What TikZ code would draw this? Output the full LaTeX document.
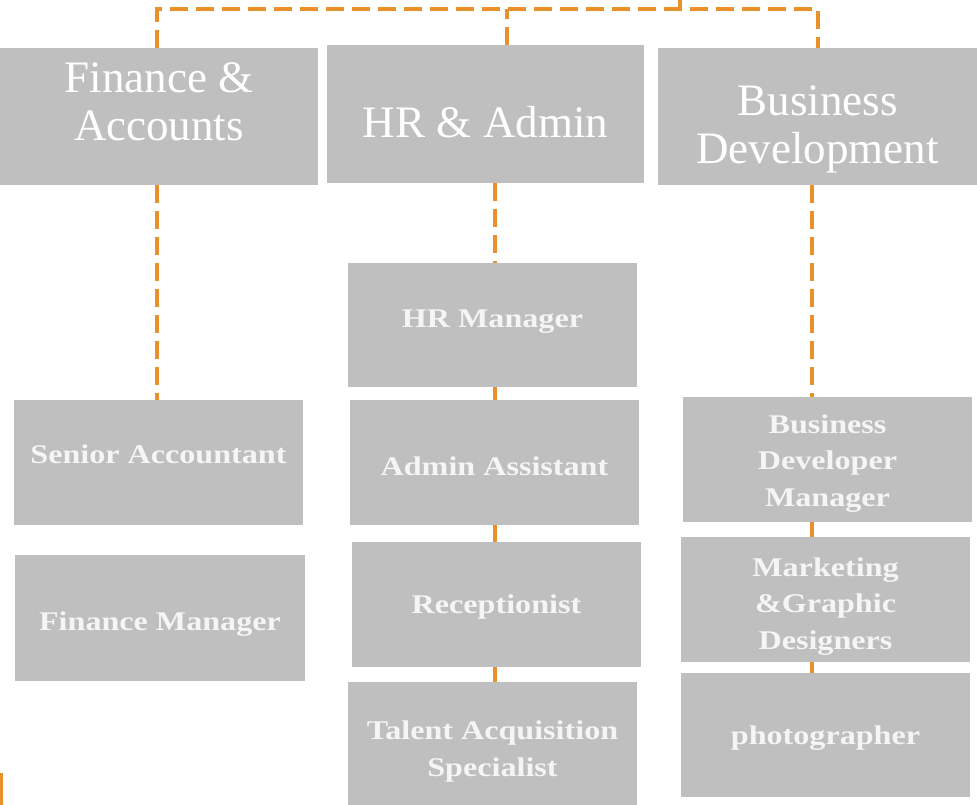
\documentclass[tikz,border=0pt]{standalone}
\usepackage{fontspec}
\setmainfont{Liberation Serif}
\newfontfamily\subfont{Liberation Serif}[FakeStretch=1.19]
\definecolor{boxgray}{HTML}{BFBFBF}
\definecolor{lineorange}{HTML}{E8902A}
\definecolor{txt}{HTML}{F5F5F5}
\begin{document}
\begin{tikzpicture}[x=1pt,y=-1pt,
  deptbox/.style={fill=boxgray, draw=none, inner sep=0pt},
  depttext/.style={inner sep=0pt, align=center, text=white,
    font=\fontsize{45}{48}\selectfont},
  rolebox/.style={fill=boxgray, draw=none, inner sep=0pt,
    minimum width=289pt, minimum height=125pt},
  roletext/.style={inner sep=0pt, align=center, text=txt,
    font=\subfont\bfseries\fontsize{27}{36.5}\selectfont},
  conn/.style={draw=lineorange, line width=4pt, dash pattern=on 18pt off 8pt}]
\useasboundingbox (0,0) rectangle (977,805);
% department boxes
\node[deptbox, minimum width=318pt, minimum height=137pt] (fin) at (159,116.5) {};
\node[deptbox, minimum width=317pt, minimum height=138pt] (hr) at (485.5,114) {};
\node[deptbox, minimum width=319pt, minimum height=137pt] (bd) at (817.5,116.5) {};
\node[depttext, yshift=15pt] (fint) at (fin.center) {Finance \&\\Accounts};
\node[depttext, yshift=-8pt] (hrt) at (hr.center) {HR \& Admin};
\node[depttext, yshift=-12.5pt] (bdt) at (bd.center) {Business\\Development};
% role boxes
\node[rolebox] (sa) at (158.5,462.5) {};
\node[rolebox, minimum width=290pt, minimum height=126pt] (fm) at (160,618) {};
\node[rolebox, minimum height=124pt] (hrm) at (492.5,325) {};
\node[rolebox] (aa) at (494.5,462.5) {};
\node[rolebox] (rec) at (496.5,604.5) {};
\node[rolebox, minimum height=123pt] (tal) at (492.5,743.5) {};
\node[rolebox] (bdm) at (827.5,459.5) {};
\node[rolebox] (mkt) at (825.5,599.5) {};
\node[rolebox, minimum height=124pt] (ph) at (825.5,735) {};
% role texts
\node[roletext, yshift=8.5pt] (sat) at (sa.center) {Senior Accountant};
\node[roletext, yshift=-6pt] (fmt) at (fm.center) {Finance Manager};
\node[roletext, yshift=3pt] (hrmt) at (hrm.center) {HR Manager};
\node[roletext, yshift=-4pt] (aat) at (aa.center) {Admin Assistant};
\node[roletext, yshift=-3pt] (rect) at (rec.center) {Receptionist};
\node[roletext, yshift=-8pt] (talt) at (tal.center) {Talent Acquisition\\Specialist};
\node[roletext, yshift=-4pt] (bdmt) at (bdm.center) {Business\\Developer\\Manager};
\node[roletext, yshift=-7pt] (mktt) at (mkt.center) {Marketing\\\&Graphic\\Designers};
\node[roletext, yshift=-3pt] (pht) at (ph.center) {photographer};
% helper coordinates
\coordinate (bus) at (0,9);
\coordinate (up) at (680,0);
\coordinate (hrx) at (495,0);
\coordinate (bdx) at (812,0);
\coordinate (hrtop) at (507,0);
\coordinate (finx) at (157,0);
\coordinate (bdtop) at (818,0);
\coordinate (edge1) at (1.5,773);
\coordinate (edge2) at (1.5,805);
% top bus
\draw[conn] (fin.north -| finx) |- (bus -| bdtop) -- (bd.north -| bdtop);
\draw[conn] (hr.north -| hrtop) -- (bus -| hrtop);
\draw[conn] (up) -- (up |- bus);
% finance column
\draw[conn] (fin.south -| finx) -- (sa.north -| finx);
% HR column
\draw[conn] (hr.south -| hrx) -- (hrm.north -| hrx);
\draw[conn] (hrm.south -| hrx) -- (aa.north -| hrx);
\draw[conn] (aa.south -| hrx) -- (rec.north -| hrx);
\draw[conn] (rec.south -| hrx) -- (tal.north -| hrx);
% BD column
\draw[conn] (bd.south -| bdx) -- (bdm.north -| bdx);
\draw[conn] (bdm.south -| bdx) -- (mkt.north -| bdx);
\draw[conn] (mkt.south -| bdx) -- (ph.north -| bdx);
% fragment at bottom left
\draw[draw=lineorange, line width=3pt] (edge1) -- (edge2);
\end{tikzpicture}
\end{document}
